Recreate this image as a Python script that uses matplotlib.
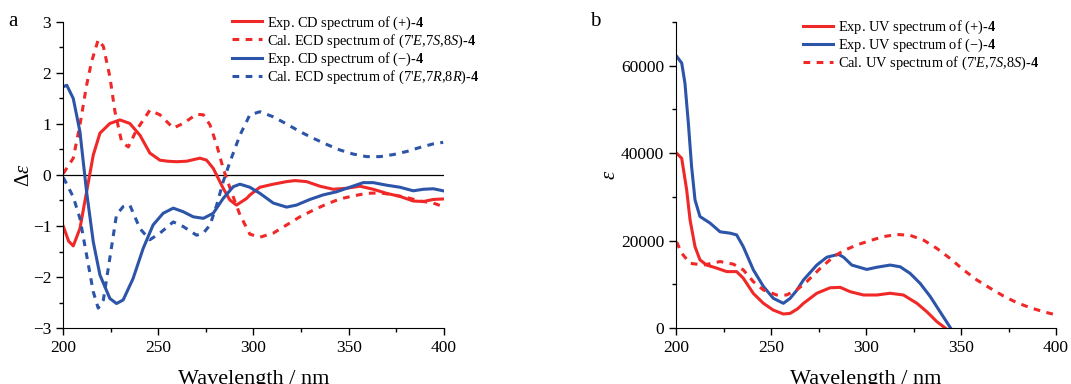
import matplotlib
matplotlib.use('Agg')
import matplotlib.pyplot as plt
from matplotlib.ticker import MultipleLocator

plt.rcParams['font.family'] = ['Liberation Serif', 'DejaVu Serif']
plt.rcParams['mathtext.fontset'] = 'custom'
plt.rcParams['mathtext.rm'] = 'Liberation Serif'
plt.rcParams['mathtext.it'] = 'Liberation Serif:italic'
plt.rcParams['mathtext.bf'] = 'Liberation Serif:bold'

RED = '#f02828'
BLUE = '#2c54a8'

# ---- panel a: CD spectra ----
cd_pos_wl = [200.2, 203, 205.4, 208.9, 212.4, 215.9, 219.4, 224.6, 229.9, 235.1, 240.4, 245.6,
             250.9, 255, 259.6, 264.9, 271.9, 275.4, 278.9, 284.1, 287.6, 291.1, 296.4, 298.2,
             303.4, 310.4, 317.4, 321.8, 327.9, 334.9, 341.9, 348.9, 355.9, 362.9, 369.9,
             376.9, 383.9, 389.2, 394.4, 399.6]
cd_pos = [-1.01, -1.30, -1.39, -1.05, -0.33, 0.39, 0.82, 1.01, 1.08, 1.01, 0.78, 0.43, 0.29,
          0.27, 0.26, 0.27, 0.33, 0.29, 0.13, -0.26, -0.49, -0.59, -0.46, -0.39, -0.24, -0.18,
          -0.13, -0.11, -0.13, -0.22, -0.28, -0.26, -0.22, -0.28, -0.36, -0.42, -0.51, -0.52,
          -0.48, -0.47]

cal_s_wl = [200.2, 205.4, 208.9, 212.4, 215, 218.5, 221.2, 224.6, 227.3, 230.8, 234.3, 238.6,
            245.6, 250.9, 257.9, 263.1, 270.1, 273.7, 277.2, 280.7, 284.1, 287.7, 292.9, 298.1,
            303.4, 310.4, 317.4, 324.4, 331.4, 338.4, 345.4, 352.4, 359.4, 366.4, 373.4, 380.4,
            387.4, 394.4, 399.6]
cal_s = [0.03, 0.33, 0.98, 1.76, 2.22, 2.65, 2.52, 1.93, 1.24, 0.65, 0.55, 0.88, 1.27, 1.18,
         0.92, 1.01, 1.19, 1.18, 0.98, 0.59, 0.13, -0.26, -0.78, -1.16, -1.22, -1.14, -0.98,
         -0.82, -0.69, -0.57, -0.47, -0.41, -0.36, -0.35, -0.39, -0.44, -0.51, -0.55, -0.62]

cd_neg_wl = [200.2, 202, 205.4, 208.9, 212.4, 215.9, 219.4, 224.6, 228.1, 231.6, 236.8, 242.1,
             247.3, 252.6, 257.9, 263.1, 268.4, 273.7, 278.9, 284.1, 289.4, 292.9, 298.1,
             303.4, 310.4, 317.4, 322.6, 329.6, 336.6, 343.6, 350.6, 357.6, 362.9, 369.9,
             376.9, 383.9, 389.2, 394.4, 399.6]
cd_neg = [1.73, 1.76, 1.50, 0.85, -0.33, -1.31, -1.96, -2.42, -2.52, -2.45, -2.03, -1.44, -0.98,
          -0.75, -0.65, -0.72, -0.82, -0.85, -0.75, -0.46, -0.23, -0.18, -0.24, -0.36, -0.55,
          -0.63, -0.59, -0.48, -0.39, -0.33, -0.24, -0.15, -0.15, -0.20, -0.24, -0.31, -0.28,
          -0.27, -0.31]

cal_r_wl = [200.2, 205.4, 208.9, 212.4, 215.9, 218.5, 221.2, 224.6, 228.1, 231.6, 235.1, 240.4,
            245.6, 250.9, 257.9, 263.1, 270.1, 273.7, 277.2, 280.7, 284.1, 287.7, 292.9, 298.1,
            303.4, 310.4, 317.4, 324.4, 331.4, 338.4, 345.4, 352.4, 359.4, 366.4, 373.4, 380.4,
            387.4, 394.4, 399.6]
cal_r = [-0.05, -0.43, -0.85, -1.57, -2.29, -2.61, -2.45, -1.63, -0.78, -0.62, -0.59, -1.05,
         -1.27, -1.14, -0.92, -1.01, -1.18, -1.14, -0.98, -0.59, -0.13, 0.26, 0.78, 1.18, 1.24,
         1.14, 1.00, 0.85, 0.72, 0.60, 0.49, 0.41, 0.36, 0.36, 0.40, 0.46, 0.54, 0.61, 0.64]

# ---- panel b: UV spectra ----
uv_pos_wl = [200.3, 203, 205.6, 207.4, 210, 212.6, 216.1, 221.4, 226.7, 231.9, 235.4, 240.7,
             246, 251.2, 256.5, 260.1, 264, 267.1, 274.1, 281.1, 286.4, 291.7, 298.7, 305.7,
             312.7, 319.7, 326.8, 332, 337.3, 341.7]
uv_pos = [40000, 38800, 31600, 24700, 18600, 15600, 14400, 13700, 12900, 12900, 11400, 7900,
          5650, 4100, 3200, 3350, 4400, 5650, 7950, 9200, 9300, 8300, 7550, 7550, 7950, 7550,
          5650, 3730, 1450, 0]

uv_neg_wl = [200.4, 203, 204.7, 206.5, 208.2, 210, 212.6, 217.9, 223.2, 228.4, 231.9, 235.4,
             240.7, 246, 251.2, 256.5, 260.1, 263.5, 267.1, 274.1, 279.4, 285.5, 288.2, 292.5,
             300.4, 305.7, 312.7, 318, 323.2, 328.5, 333.8, 339, 344.5]
uv_neg = [62100, 60600, 56000, 46800, 36900, 29300, 25500, 24000, 22000, 21700, 21300, 18600,
          13300, 9500, 6800, 5650, 6800, 8600, 11000, 14400, 16200, 16850, 16200, 14400, 13400,
          13900, 14400, 14000, 12500, 10200, 7200, 3700, 0]

uv_cal_wl = [200.3, 203, 207.4, 214.4, 223.2, 230.2, 235.4, 240.7, 246, 253, 258.2, 263.5,
             268.8, 275.9, 282.9, 288.2, 295.2, 302.2, 309.2, 316.2, 323.2, 330.3, 337.3, 344.3,
             351.3, 358.3, 365.4, 372.4, 379.4, 386.4, 393.4, 400]
uv_cal = [19700, 17100, 14800, 14400, 15200, 14600, 13300, 10600, 8700, 7550, 7550, 8700, 10600,
          13650, 16300, 17700, 19000, 20000, 20900, 21400, 21200, 20100, 18200, 15900, 13300,
          11000, 9100, 7300, 5800, 4650, 3730, 3000]

fig = plt.figure(figsize=(10.71, 3.84), dpi=100)
ax1 = fig.add_axes([0.0588, 0.1458, 0.3557, 0.797])
ax2 = fig.add_axes([0.6312, 0.1458, 0.3548, 0.797])

lw = 2.2
dash = (2.2, 2.1)
leg_kw = dict(loc='upper left', frameon=False, fontsize=10.4, handlelength=2.1,
              handletextpad=0.3, labelspacing=0.05, borderpad=0, borderaxespad=0)

ax1.axhline(0, color='black', lw=0.9, zorder=1)
ax1.plot(cd_pos_wl, cd_pos, color=RED, lw=lw, label='Exp. CD spectrum of (+)-$\\mathbf{4}$')
ax1.plot(cal_s_wl, cal_s, color=RED, lw=lw, dashes=dash,
         label="Cal. ECD spectrum of (7'$E$,7$S$,8$S$)-$\\mathbf{4}$")
ax1.plot(cd_neg_wl, cd_neg, color=BLUE, lw=lw, label='Exp. CD spectrum of (\u2212)-$\\mathbf{4}$')
ax1.plot(cal_r_wl, cal_r, color=BLUE, lw=lw, dashes=dash,
         label="Cal. ECD spectrum of (7'$E$,7$R$,8$R$)-$\\mathbf{4}$")
ax1.set_xlim(200, 400)
ax1.set_ylim(-3, 3)
ax1.yaxis.set_major_locator(MultipleLocator(1))
ax1.yaxis.set_minor_locator(MultipleLocator(0.5))
ax1.set_ylabel('$\\Delta\\mathit{ε}$', fontsize=15, labelpad=-1)
ax1.legend(bbox_to_anchor=(0.444, 1.025), **leg_kw)

ax2.plot(uv_pos_wl, uv_pos, color=RED, lw=lw, label='Exp. UV spectrum of (+)-$\\mathbf{4}$')
ax2.plot(uv_neg_wl, uv_neg, color=BLUE, lw=lw, label='Exp. UV spectrum of (\u2212)-$\\mathbf{4}$')
ax2.plot(uv_cal_wl, uv_cal, color=RED, lw=lw, dashes=dash,
         label="Cal. UV spectrum of (7'$E$,7$S$,8$S$)-$\\mathbf{4}$")
ax2.set_xlim(200, 400)
ax2.set_ylim(0, 70000)
ax2.yaxis.set_major_locator(MultipleLocator(20000))
ax2.yaxis.set_minor_locator(MultipleLocator(10000))
ax2.set_ylabel('$\\mathit{ε}$', fontsize=15, labelpad=1)
ax2.legend(bbox_to_anchor=(0.334, 1.01), **leg_kw)

for ax in (ax1, ax2):
    ax.spines['top'].set_visible(False)
    ax.spines['right'].set_visible(False)
    ax.xaxis.set_major_locator(MultipleLocator(50))
    ax.xaxis.set_minor_locator(MultipleLocator(25))
    ax.tick_params(which='major', direction='out', length=5, width=1, labelsize=12.5)
    ax.tick_params(which='minor', direction='out', length=3, width=1)
    ax.set_xlabel('Wavelength / nm', fontsize=16, labelpad=10)

fig.text(0.008, 0.943, 'a', fontsize=15, va='center')
fig.text(0.551, 0.943, 'b', fontsize=15, va='center')

fig.savefig('out.png', dpi=100)
